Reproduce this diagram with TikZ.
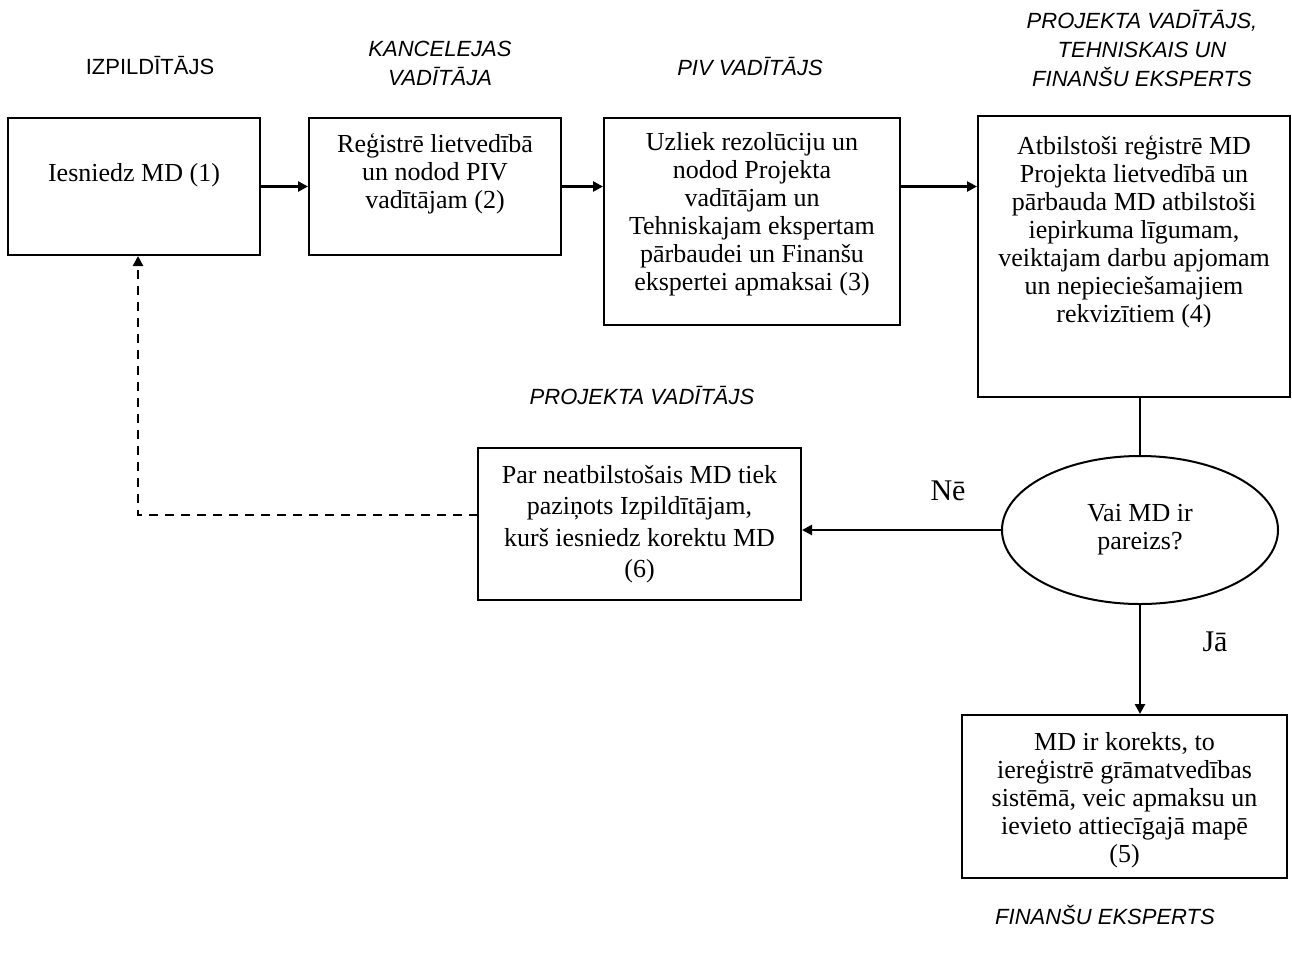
\documentclass[tikz,border=0pt]{standalone}
\usepackage{fontspec}
\setmainfont{Liberation Serif}
\newfontfamily\headfont{Liberation Sans}
\usetikzlibrary{arrows.meta,shapes.geometric}
\tikzset{
  box/.style={draw,line width=2pt,inner sep=0pt},
  txt/.style={align=center,inner sep=0pt,font=\fontsize{26}{28}\selectfont},
  head/.style={align=center,inner sep=0pt,font=\headfont\itshape\fontsize{22}{29}\selectfont},
  arr/.style={line width=2.5pt,-{Triangle[length=10pt,width=10pt]}},
  plain/.style={line width=2.5pt},
  dasharr/.style={line width=2.5pt,dash pattern=on 9pt off 7pt,-{Triangle[length=10pt,width=10pt]}},
  yn/.style={inner sep=0pt,font=\fontsize{30}{32}\selectfont}
}
\begin{document}
\begin{tikzpicture}[x=1pt,y=-1pt]
\useasboundingbox (0,0) rectangle (1292,954);
% headings
\node[head,font=\headfont\fontsize{22}{29}\selectfont] (h1) at (150,66) {IZPILDĪTĀJS};
\node[head] (h2) at (440,63) {KANCELEJAS\\VADĪTĀJA};
\node[head] (h3) at (750,66) {PIV VADĪTĀJS};
\node[head] (h4) at (1142,48) {PROJEKTA VADĪTĀJS,\\TEHNISKAIS UN\\FINANŠU EKSPERTS};
\node[head] (h5) at (642,395) {PROJEKTA VADĪTĀJS};
\node[head] (h6) at (1105,915) {FINANŠU EKSPERTS};
% boxes
\node[box,minimum width=252pt,minimum height=137pt] (b1) at (134,186.5) {};
\node[box,minimum width=252pt,minimum height=137pt] (b2) at (435,186.5) {};
\node[box,minimum width=296pt,minimum height=207pt] (b3) at (752,221.5) {};
\node[box,minimum width=312pt,minimum height=281pt] (b4) at (1134,256.5) {};
\node[box,ellipse,minimum width=276pt,minimum height=148pt] (e) at (1140,530) {};
\node[box,minimum width=323pt,minimum height=152pt] (b6) at (639.5,524) {};
\node[box,minimum width=325pt,minimum height=163pt] (b5) at (1124.5,796.5) {};
% texts
\node[txt] (t1) at (134,175) {Iesniedz MD (1)};
\node[txt] (t2) at (435,174) {Reģistrē lietvedībā\\un nodod PIV\\vadītājam (2)};
\node[txt] (t3) at (752,214) {Uzliek rezolūciju un\\nodod Projekta\\vadītājam un\\Tehniskajam ekspertam\\pārbaudei un Finanšu\\ekspertei apmaksai (3)};
\node[txt] (t4) at (1134,232) {Atbilstoši reģistrē MD\\Projekta lietvedībā un\\pārbauda MD atbilstoši\\iepirkuma līgumam,\\veiktajam darbu apjomam\\un nepieciešamajiem\\rekvizītiem (4)};
\node[txt] (te) at (1140,530) {Vai MD ir\\pareizs?};
\node[txt,font=\fontsize{26}{31.5}\selectfont] (t6) at (639.5,524) {Par neatbilstošais MD tiek\\paziņots Izpildītājam,\\kurš iesniedz korektu MD\\(6)};
\node[txt] (t5) at (1124.5,800) {MD ir korekts, to\\iereģistrē grāmatvedības\\sistēmā, veic apmaksu un\\ievieto attiecīgajā mapē\\(5)};
\node[yn] (ne) at (948,491) {Nē};
\node[yn] (ja) at (1215,642) {Jā};
% connectors
\draw[arr] (b1.east) -- (b2.west);
\draw[arr] (b2.east) -- (b2.east -| b3.west);
\draw[arr] (b2.east -| b3.east) -- (b2.east -| b4.west);
\draw[plain] (b4.south -| e.north) -- (e.north);
\draw[arr] (e.west) -- (e.west -| b6.east);
\draw[arr] (e.south) -- (e.south |- b5.north);
\coordinate (d1) at (478,515);
\coordinate (d2) at (138,515);
\draw[dasharr] (d1) -- (d2) -- (d2 |- b1.south);
\end{tikzpicture}
\end{document}
